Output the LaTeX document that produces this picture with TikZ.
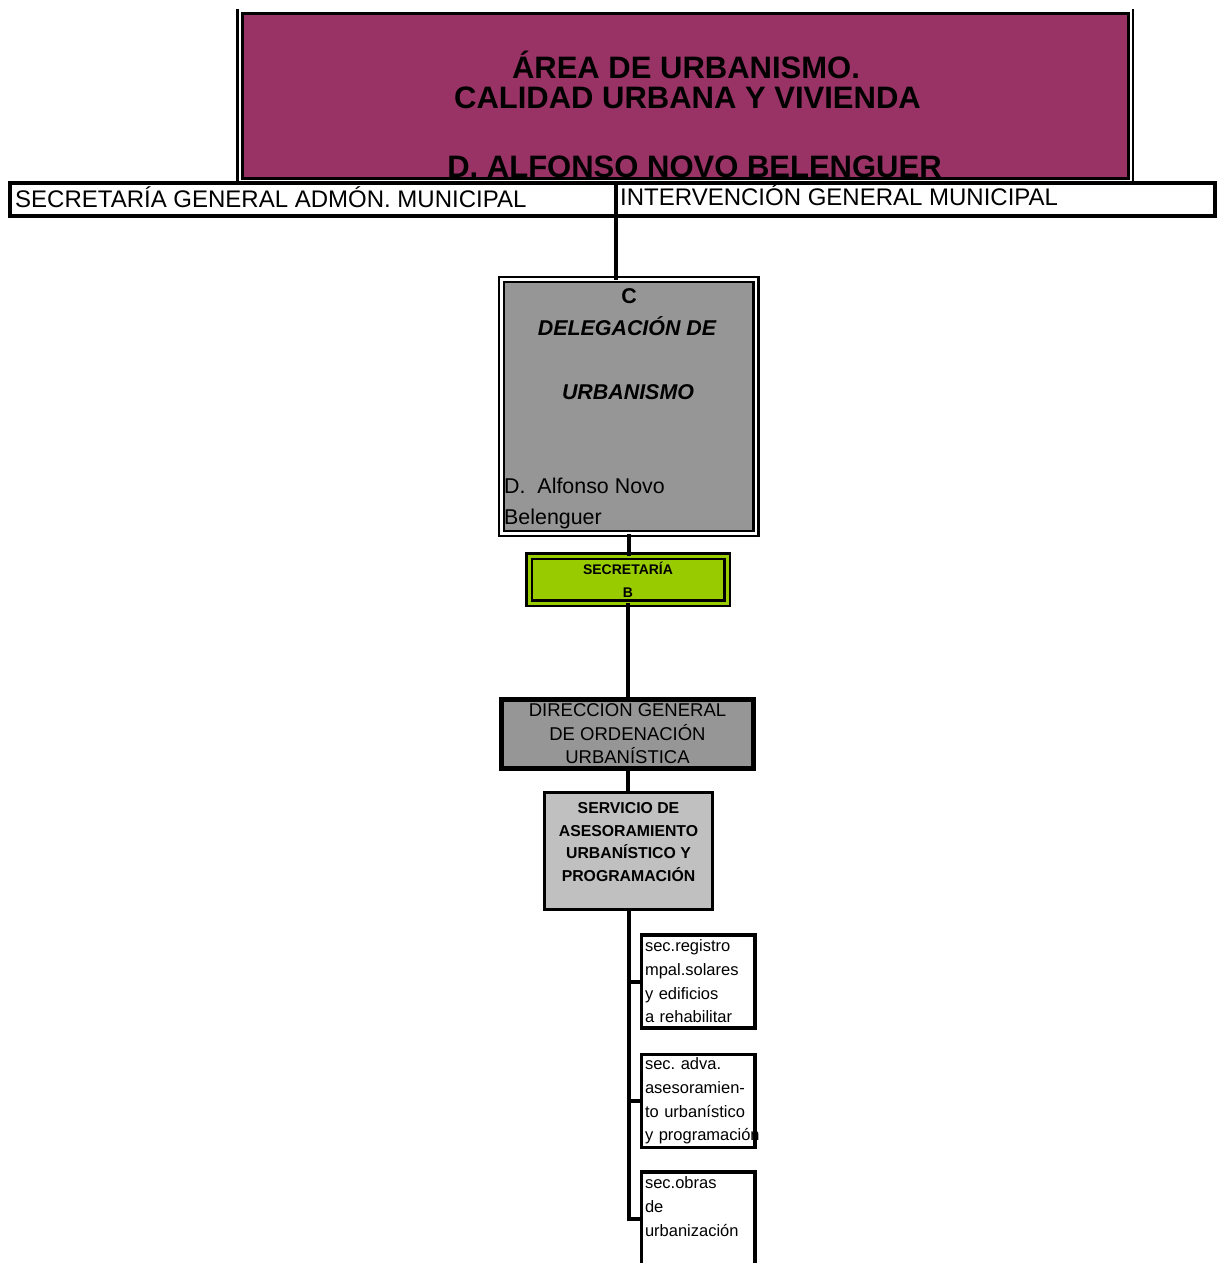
\documentclass[tikz,border=0pt]{standalone}
\usepackage{fontspec}
\setmainfont{Liberation Sans}
\usetikzlibrary{positioning, calc}
\frenchspacing
\definecolor{areaPurple}{HTML}{993366}
\definecolor{grisMedio}{HTML}{969696}
\definecolor{grisClaro}{HTML}{C0C0C0}
\definecolor{verdeSec}{HTML}{99CC00}
\newcommand{\fsz}[2]{\fontsize{#1}{#2}\selectfont}
\tikzset{
    caja/.style={rectangle, draw, outer sep=0pt, inner sep=0pt},
    cajaArea/.style={caja, line width=3pt, fill=areaPurple, minimum width=886pt, minimum height=165pt},
    cajaFila/.style={caja, line width=4pt, fill=white, minimum height=33pt},
    cajaDeleg/.style={caja, line width=2.5pt, double=white, double distance=2.5pt, fill=grisMedio, minimum width=254.5pt, minimum height=254pt},
    cajaSecre/.style={caja, line width=2.5pt, double=verdeSec, double distance=3pt, fill=verdeSec, minimum width=198pt, minimum height=47pt, align=center, font=\bfseries\fsz{14}{23}},
    cajaDir/.style={caja, line width=5pt, fill=grisMedio, minimum width=252pt, minimum height=69pt, align=center, font=\fsz{18.5}{23.5}},
    cajaServ/.style={caja, line width=3pt, fill=grisClaro, minimum width=168pt, minimum height=117pt},
    cajaSec/.style={caja, line width=3.5pt, fill=white, minimum width=113.5pt, minimum height=93pt, text width=106.5pt, inner xsep=3.5pt, align=left, font=\fsz{16.5}{23.7}},
    txtTitulo/.style={anchor=base, inner sep=0pt, font=\bfseries\fsz{31}{36}},
    txtFila/.style={anchor=base west, inner sep=0pt, font=\fsz{24}{28}},
    txtDeleg/.style={anchor=base, inner sep=0pt, font=\bfseries\itshape\fsz{21.4}{26}},
    txtNombre/.style={anchor=base west, inner sep=0pt, font=\fsz{21.4}{26}},
    txtServ/.style={inner sep=0pt, align=center, font=\bfseries\fsz{15.8}{22.5}},
    linea/.style={line width=4pt},
    lineaFina/.style={line width=2.5pt},
}
% bajada vertical de una caja a la siguiente
\newcommand{\drawBajada}[2]{
    \draw[linea] (#1.south) -- (#1.south |- #2.north);
}
% rama horizontal desde el tronco hasta una seccion
\newcommand{\drawRama}[2]{
    \draw[linea] (#1.south |- #2.west) -- (#2.west);
}

\begin{document}
\begin{tikzpicture}[x=1pt, y=-1pt]
    \useasboundingbox (0,0) rectangle (1218,1263);
    \clip (0,0) rectangle (1218,1263);

    \draw[lineaFina] (237.5,9) -- (237.5,181);
    \draw[lineaFina] (1133,9) -- (1133,181);
    \node[cajaArea] (area) at (685.5,96) {};
    \node[txtTitulo] (titulo1) at (686,78) {ÁREA DE URBANISMO.};
    \node[txtTitulo] (titulo2) at (687.5,108) {CALIDAD URBANA Y VIVIENDA};
    \node[txtTitulo] (titulo3) at (694.5,177) {D. ALFONSO NOVO BELENGUER};

    \node[cajaFila, minimum width=605.5pt] (secgen) at (312.75,199.5) {};
    \node[cajaFila, minimum width=599.5pt] (intgen) at (915.25,199.5) {};
    \node[txtFila] (secgenTxt) at (15,207) {SECRETARÍA GENERAL ADMÓN. MUNICIPAL};
    \node[txtFila] (intgenTxt) at (620,205) {INTERVENCIÓN GENERAL MUNICIPAL};

    \node[cajaDeleg] (deleg) at (628.75,406.5) {};
    \node[txtDeleg, font=\bfseries\fsz{21.4}{26}] (delegC) at (629,303) {C};
    \node[txtDeleg] (deleg1) at (627,335) {DELEGACIÓN DE};
    \node[txtDeleg] (deleg2) at (628,399) {URBANISMO};
    \node[txtNombre] (deleg3) at (504,493) {D.\ \ Alfonso Novo};
    \node[txtNombre] (deleg4) at (504,524) {Belenguer};

    \node[cajaSecre] (secre) at (628,579.5) {SECRETARÍA\\B};
    \node[cajaDir] (direc) at (627.5,734) {DIRECCION GENERAL\\DE ORDENACIÓN\\URBANÍSTICA};
    \node[cajaServ] (serv) at (628.5,851) {};
    \node[txtServ] (servTxt) at (628.5,842) {SERVICIO DE\\ASESORAMIENTO\\URBANÍSTICO Y\\PROGRAMACIÓN};

    \node[cajaSec] (sec1) at (698.25,981.5) {sec.registro\\mpal.solares\\y edificios\\a rehabilitar};
    \node[cajaSec] (sec2) at (698.25,1101) {sec. adva.\\asesoramien-\\to urbanístico\\\mbox{y programación}};
    \node[cajaSec] (sec3) at (698.25,1218.5) {sec.obras\\de\\urbanización\\\mbox{}};

    \draw[linea] (secgen.south east) -- (secgen.south east |- deleg.north);
    \drawBajada{deleg}{secre}
    \drawBajada{secre}{direc}
    \drawBajada{direc}{serv}
    \draw[linea] (serv.south) |- (sec3.west);
    \drawRama{serv}{sec1}
    \drawRama{serv}{sec2}

\end{tikzpicture}
\end{document}
